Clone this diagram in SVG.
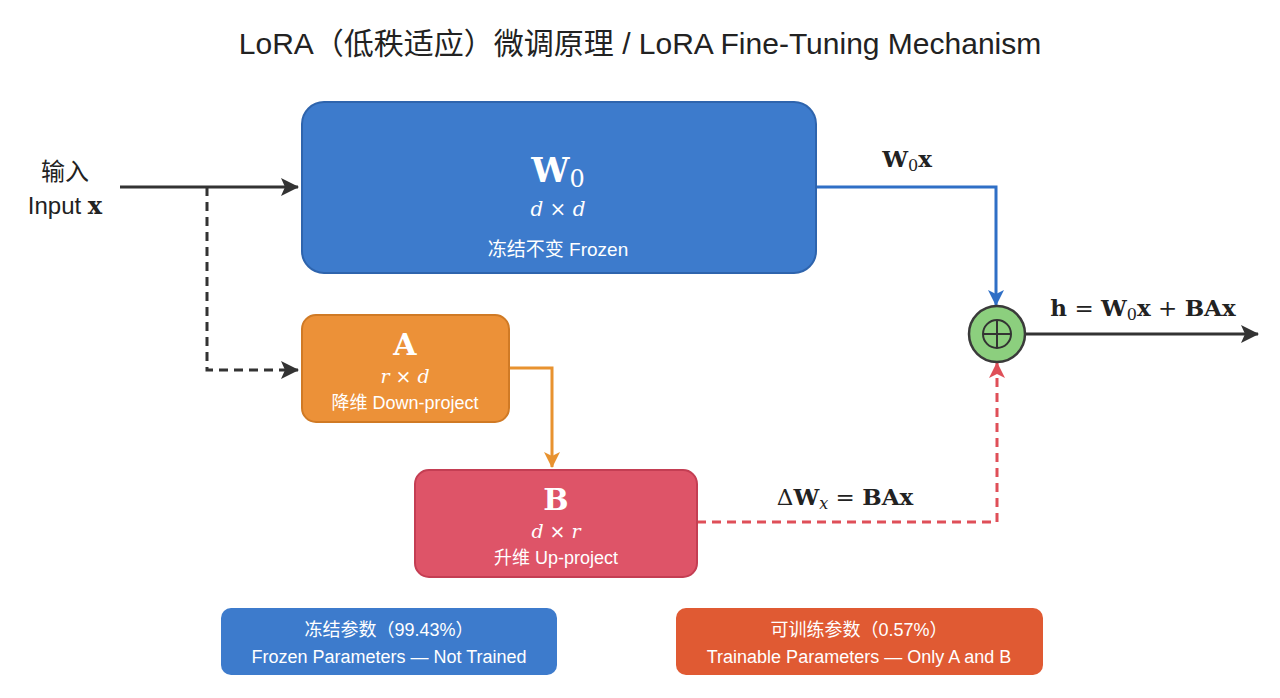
<svg xmlns="http://www.w3.org/2000/svg" width="1280" height="698" viewBox="0 0 1280 698">
<style>
.s{font-family:"Liberation Sans","Noto Sans CJK SC",sans-serif}
.m{font-family:"DejaVu Serif","Liberation Serif",serif}
.w{fill:#fff}
</style>
<defs>
<marker id="ak" markerWidth="10" markerHeight="10" refX="9" refY="5" orient="auto" markerUnits="userSpaceOnUse" viewBox="0 0 10 10"><path d="M0,0 L10,5 L0,10 L3,5z" fill="#333"/></marker>
<marker id="ab" markerWidth="16" markerHeight="16" refX="15" refY="8" orient="auto" markerUnits="userSpaceOnUse" viewBox="0 0 16 16"><path d="M0,0 L16,8 L0,16 L4,8z" fill="#2f6fc6"/></marker>
<marker id="ao" markerWidth="16" markerHeight="16" refX="15" refY="8" orient="auto" markerUnits="userSpaceOnUse" viewBox="0 0 16 16"><path d="M0,0 L16,8 L0,16 L4,8z" fill="#e8922f"/></marker>
<marker id="ar" markerWidth="16" markerHeight="16" refX="15" refY="8" orient="auto" markerUnits="userSpaceOnUse" viewBox="0 0 16 16"><path d="M0,0 L16,8 L0,16 L4,8z" fill="#df4f58"/></marker>
<marker id="ad" markerWidth="18" markerHeight="18" refX="17" refY="9" orient="auto" markerUnits="userSpaceOnUse" viewBox="0 0 18 18"><path d="M0,0 L18,9 L0,18 L4,9z" fill="#333"/></marker>
</defs>
<rect width="1280" height="698" fill="#fff"/>
<text class="s" x="640" y="54" text-anchor="middle" font-size="30" fill="#222">LoRA（低秩适应）微调原理 / LoRA Fine-Tuning Mechanism</text>
<g id="connectors" fill="none" stroke-width="3">
<path d="M120,187 H298" stroke="#333" marker-end="url(#ad)"/>
<path d="M207,187 V370 H298" stroke="#333" stroke-dasharray="9,6" marker-end="url(#ad)"/>
<path d="M816,187 H996 V305" stroke="#2f6fc6" marker-end="url(#ab)"/>
<path d="M509,368 H552 V467" stroke="#e8922f" marker-end="url(#ao)"/>
<path d="M697,522 H997 V363" stroke="#df4f58" stroke-dasharray="9,6" marker-end="url(#ar)"/>
<path d="M1025,334 H1258" stroke="#333" marker-end="url(#ad)"/>
</g>
<g id="input">
<text class="s" x="65" y="180" text-anchor="middle" font-size="24" fill="#222">输入</text>
<text class="s" x="65" y="214" text-anchor="middle" font-size="24" fill="#222">Input <tspan class="m" font-weight="bold">x</tspan></text>
</g>
<g id="W0">
<rect x="302" y="102" width="514" height="171" rx="22" fill="#3d7bcc" stroke="#2e64ad" stroke-width="2"/>
<text class="m w" x="558" y="182" text-anchor="middle" font-size="34" font-weight="bold">W<tspan font-size="24" font-weight="normal" dy="5">0</tspan></text>
<text class="m w" x="558" y="216" text-anchor="middle" font-size="20" font-style="italic">d <tspan font-style="normal">×</tspan> d</text>
<text class="s w" x="558" y="256" text-anchor="middle" font-size="19">冻结不变 Frozen</text>
</g>
<text class="m" x="907" y="167" text-anchor="middle" font-size="23" font-weight="bold" fill="#222">W<tspan font-size="16" font-weight="normal" dy="4">0</tspan><tspan dy="-4">x</tspan></text>
<g id="A">
<rect x="302" y="315" width="207" height="107" rx="14" fill="#ec9138" stroke="#d07a25" stroke-width="2"/>
<text class="m w" x="405" y="355" text-anchor="middle" font-size="30" font-weight="bold">A</text>
<text class="m w" x="405" y="383" text-anchor="middle" font-size="19" font-style="italic">r <tspan font-style="normal">×</tspan> d</text>
<text class="s w" x="405" y="409" text-anchor="middle" font-size="18">降维 Down-project</text>
</g>
<g id="B">
<rect x="415" y="470" width="282" height="107" rx="14" fill="#de5468" stroke="#c43e53" stroke-width="2"/>
<text class="m w" x="556" y="510" text-anchor="middle" font-size="30" font-weight="bold">B</text>
<text class="m w" x="556" y="538" text-anchor="middle" font-size="19" font-style="italic">d <tspan font-style="normal">×</tspan> r</text>
<text class="s w" x="556" y="564" text-anchor="middle" font-size="18">升维 Up-project</text>
</g>
<text class="m" x="845" y="505" text-anchor="middle" font-size="23" font-weight="bold" fill="#222"><tspan font-weight="normal">Δ</tspan>W<tspan font-size="16" font-weight="normal" font-style="italic" dy="4">x</tspan><tspan dy="-4" font-weight="normal"> = </tspan>BAx</text>
<g id="sum">
<circle cx="997" cy="334" r="28" fill="#8ccf7e" stroke="#3a3a3a" stroke-width="2.5"/>
<circle cx="997" cy="334" r="14" fill="none" stroke="#333" stroke-width="2"/>
<path d="M983,334 H1011 M997,320 V348" stroke="#333" stroke-width="2"/>
</g>
<text class="m" x="1143" y="316" text-anchor="middle" font-size="23" font-weight="bold" fill="#222">h<tspan font-weight="normal"> = </tspan>W<tspan font-size="16" font-weight="normal" dy="4">0</tspan><tspan dy="-4">x</tspan><tspan font-weight="normal"> + </tspan>BAx</text>
<g id="legend-frozen">
<rect x="221" y="608" width="336" height="67" rx="10" fill="#3d7bcc"/>
<text class="s w" x="389" y="636" text-anchor="middle" font-size="18">冻结参数（99.43%）</text>
<text class="s w" x="389" y="663" text-anchor="middle" font-size="18">Frozen Parameters — Not Trained</text>
</g>
<g id="legend-trainable">
<rect x="676" y="608" width="367" height="67" rx="10" fill="#e05a33"/>
<text class="s w" x="859" y="636" text-anchor="middle" font-size="18">可训练参数（0.57%）</text>
<text class="s w" x="859" y="663" text-anchor="middle" font-size="18">Trainable Parameters — Only A and B</text>
</g>
</svg>
